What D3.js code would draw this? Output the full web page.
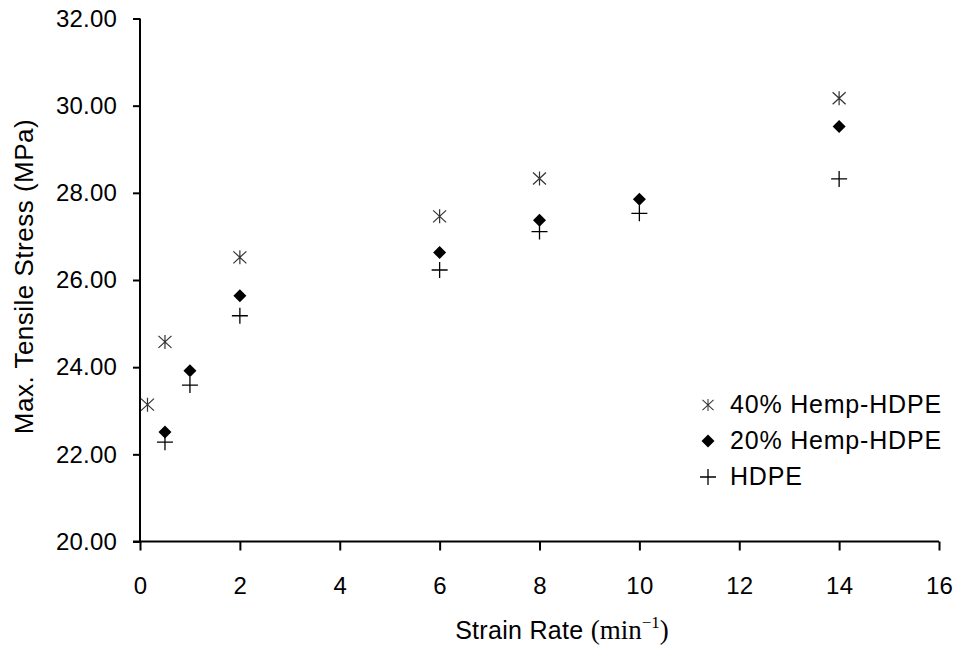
<!DOCTYPE html>
<html>
<head>
<meta charset="utf-8">
<script src="https://cdn.jsdelivr.net/npm/d3@7"></script>
<style>
  body { margin: 0; background: #fff; }
  text { font-family: "Liberation Sans", Arial, sans-serif; fill: #000; }
</style>
</head>
<body>
<div id="chart"></div>
<script>
// data
const rates40 = [0.15, 0.5, 2, 6, 8, 14];
const stress40 = [23.14, 24.58, 26.52, 27.46, 28.33, 30.17];
const rates20 = [0.5, 1, 2, 6, 8, 10, 14];
const stress20 = [22.51, 23.92, 25.64, 26.63, 27.37, 27.85, 29.52];
const ratesHDPE = [0.5, 1, 2, 6, 8, 10, 14];
const stressHDPE = [22.28, 23.59, 25.18, 26.23, 27.11, 27.53, 28.32];
const seriesNames = ["40% Hemp-HDPE", "20% Hemp-HDPE", "HDPE"];
const xTicks = [0, 2, 4, 6, 8, 10, 12, 14, 16];
const yTicks = [20, 22, 24, 26, 28, 30, 32];

const width = 958, height = 646;
const margin = {top: 18.5, right: 19, bottom: 104.5, left: 140};

const svg = d3.select("#chart")
  .append("svg")
    .attr("width", width)
    .attr("height", height);

const x = d3.scaleLinear().domain([0, 16]).range([margin.left, width - margin.right]);
const y = d3.scaleLinear().domain([20, 32]).range([height - margin.bottom, margin.top]);

// marker shapes
const asterisk = "M0,-7V7M-6.5,-6L6.5,6M-6.5,6L6.5,-6";
const diamond = "M0,-6.5L6.5,0L0,6.5L-6.5,0Z";
const plus = "M-8,0H8M0,-8V8";

const series = [
  {name: seriesNames[0], xs: rates40, ys: stress40, path: asterisk, fill: "none", stroke: "#333", sw: 1.2},
  {name: seriesNames[1], xs: rates20, ys: stress20, path: diamond, fill: "#000", stroke: "none", sw: 0},
  {name: seriesNames[2], xs: ratesHDPE, ys: stressHDPE, path: plus, fill: "none", stroke: "#000", sw: 1.3}
];

// axes
const xAxis = svg.append("g")
  .attr("transform", `translate(0,${y(20)})`)
  .call(d3.axisBottom(x).tickValues(xTicks).tickSize(9).tickSizeOuter(0).tickPadding(26));
const yAxis = svg.append("g")
  .attr("transform", `translate(${x(0)},0)`)
  .call(d3.axisLeft(y).tickValues(yTicks).tickFormat(d3.format(".2f")).tickSize(7).tickSizeOuter(0).tickPadding(16));

[xAxis, yAxis].forEach(g => {
  g.select(".domain").attr("stroke", "#000").attr("stroke-width", 2);
  g.selectAll(".tick line").attr("stroke", "#000").attr("stroke-width", 2);
  g.selectAll(".tick text")
    .style("font-family", "'Liberation Sans', Arial, sans-serif")
    .style("font-size", "24px")
    .style("letter-spacing", "0.2px")
    .attr("fill", "#000");
});
// x axis line reaches the 20.00 tick on the left
xAxis.select(".domain").attr("d", `M${x(0) - 7},0H${x(16)}`);
yAxis.select(".domain").attr("d", `M0,${y(32)}V${y(20)}`);

// points
series.forEach(s => {
  svg.append("g")
    .selectAll("path")
    .data(s.xs.map((v, i) => [v, s.ys[i]]))
    .join("path")
      .attr("d", s.path)
      .attr("transform", d => `translate(${x(d[0])},${y(d[1])})`)
      .attr("fill", s.fill)
      .attr("stroke", s.stroke)
      .attr("stroke-width", s.sw);
});

// legend
const legend = svg.append("g").attr("transform", "translate(708,405)");
series.forEach((s, i) => {
  const row = legend.append("g").attr("transform", `translate(0,${i * 36})`);
  row.append("path")
    .attr("d", s.path)
    .attr("transform", i === 0 ? "scale(0.85)" : null)
    .attr("fill", s.fill)
    .attr("stroke", s.stroke)
    .attr("stroke-width", s.sw);
  row.append("text")
    .attr("x", 22)
    .attr("y", 8)
    .style("font-size", "25px")
    .style("letter-spacing", "0.8px")
    .text(s.name);
});

// axis titles
svg.append("text")
  .attr("transform", `translate(33,${(y(20) + y(32)) / 2 - 3.5}) rotate(-90)`)
  .attr("text-anchor", "middle")
  .style("font-size", "26px")
  .style("letter-spacing", "0.5px")
  .text("Max. Tensile Stress (MPa)");

const xt = svg.append("text")
  .attr("x", 562)
  .attr("y", 639)
  .attr("text-anchor", "middle")
  .style("font-size", "25px");
xt.append("tspan").style("letter-spacing", "0.3px").text("Strain Rate ");
xt.append("tspan").style("font-family", "'Liberation Serif', 'Times New Roman', serif").style("font-size", "27px").text("(min");
xt.append("tspan").style("font-family", "'Liberation Serif', 'Times New Roman', serif").style("font-size", "17px").attr("dy", -11).text("\u22121");
xt.append("tspan").style("font-family", "'Liberation Serif', 'Times New Roman', serif").style("font-size", "27px").attr("dy", 11).text(")");
</script>
</body>
</html>
